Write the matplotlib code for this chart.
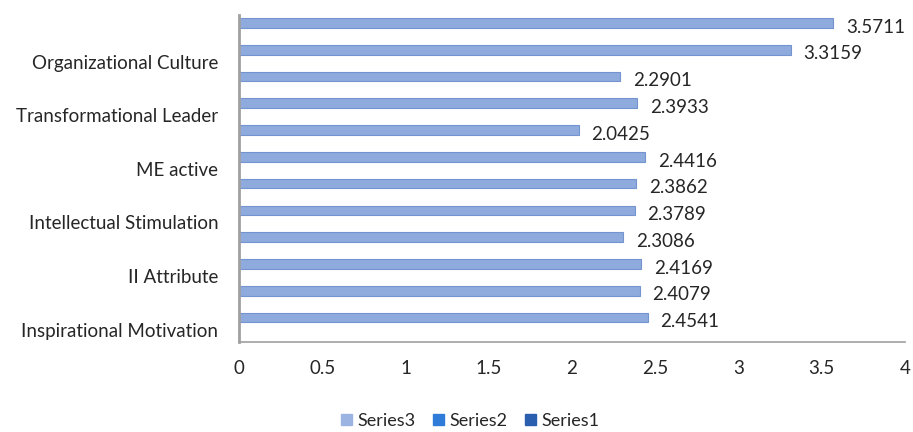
import matplotlib.pyplot as plt
from matplotlib.patches import Patch

# bars listed bottom to top
values = [2.4541, 2.4079, 2.4169, 2.3086, 2.3789, 2.3862,
          2.4416, 2.0425, 2.3933, 2.2901, 3.3159, 3.5711]
categories = ["Inspirational Motivation", "II Attribute", "Intellectual Stimulation",
              "ME active", "Transformational Leader", "Organizational Culture"]
series_names = ["Series3", "Series2", "Series1"]
series_colors = ["#9bb4e2", "#2e7bd9", "#2a5fb0"]
xticks = [0, 0.5, 1, 1.5, 2, 2.5, 3, 3.5, 4]

plt.rcParams['font.family'] = ['Lato', 'DejaVu Sans']
txt = '#262626'
fs = 13.5

fig = plt.figure(figsize=(9.13, 4.32), dpi=100)
ax = fig.add_axes([0.262, 0.209, 0.729, 0.756])

ypos = list(range(len(values)))
ax.barh(ypos, values, height=0.36, color='#8faadc', edgecolor='#7394d0', linewidth=0.8)

for y, v in zip(ypos, values):
    ax.annotate(f"{v:.4f}", (v, y), xytext=(9, -3), textcoords='offset points',
                va='center', ha='left', fontsize=fs, color=txt)

# category labels sit between each pair of bars
ax.set_yticks([2 * i - 0.45 for i in range(len(categories))])
ax.set_yticklabels(categories, fontsize=fs, color=txt)
ax.set_xticks(xticks)
ax.set_xticklabels([f"{t:g}" for t in xticks], fontsize=fs, color=txt)
ax.tick_params(axis='y', length=0, pad=15)
ax.tick_params(axis='x', length=0, pad=13)

ax.set_xlim(0, 4)
ax.set_ylim(-0.9, 11.29)
for s in ['top', 'right']:
    ax.spines[s].set_visible(False)
ax.spines['left'].set_color('#a0a0a0')
ax.spines['left'].set_linewidth(2)
ax.spines['bottom'].set_color('#a0a0a0')
ax.spines['bottom'].set_linewidth(1.2)

handles = [Patch(color=c, label=n) for n, c in zip(series_names, series_colors)]
fig.legend(handles=handles, loc='lower center', bbox_to_anchor=(0.515, -0.03), ncol=3,
           frameon=False, fontsize=13, handlelength=0.6, handleheight=0.6,
           handletextpad=0.3, columnspacing=1.0, labelcolor=txt)

fig.savefig('out.png', dpi=100)
